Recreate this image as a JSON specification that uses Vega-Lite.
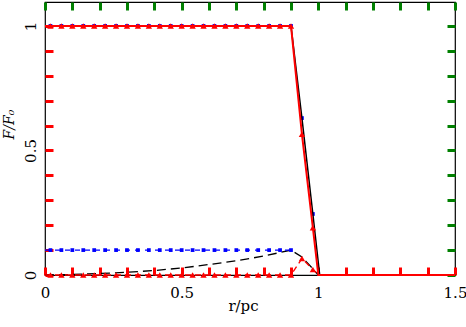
{
  "$schema": "https://vega.github.io/schema/vega-lite/v6.json",
  "width": 410,
  "height": 273,
  "autosize": "none",
  "padding": {"left": 45, "top": 2, "right": 11, "bottom": 52},
  "background": "white",
  "config": {
    "view": {"stroke": "black", "strokeWidth": 1.2},
    "axis": {
      "labelFont": "DejaVu Serif", "labelFontSize": 15, "labelColor": "black", "domain": false,
      "ticks": true, "tickOpacity": 1, "tickColor": "black", "tickWidth": 1.2,
      "titleFont": "DejaVu Serif", "titleFontWeight": "normal", "titleColor": "black",
      "grid": false, "labelFlush": false, "labelOverlap": false, "labelBound": false
    }
  },
  "data": {"values": [
    {"s":"rs","x":0,"y":1},{"s":"rs","x":0.9,"y":1},{"s":"rs","x":0.94,"y":0.565},{"s":"rs","x":0.98,"y":0.19},{"s":"rs","x":1.0,"y":0},{"s":"rs","x":1.5,"y":0},
    {"s":"bs","x":0,"y":1},{"s":"bs","x":0.9,"y":1},{"s":"bs","x":0.94,"y":0.63},{"s":"bs","x":0.98,"y":0.245},{"s":"bs","x":1.005,"y":0},{"s":"bs","x":1.5,"y":0},
    {"s":"kd","x":0,"y":0},{"s":"kd","x":0.1,"y":0.002},{"s":"kd","x":0.2,"y":0.006},{"s":"kd","x":0.3,"y":0.011},{"s":"kd","x":0.4,"y":0.018},{"s":"kd","x":0.5,"y":0.028},{"s":"kd","x":0.6,"y":0.042},{"s":"kd","x":0.7,"y":0.057},{"s":"kd","x":0.8,"y":0.076},{"s":"kd","x":0.9,"y":0.1},{"s":"kd","x":0.94,"y":0.072},{"s":"kd","x":0.98,"y":0.025},{"s":"kd","x":1.0,"y":0},{"s":"kd","x":1.5,"y":0},
    {"s":"bd","x":0,"y":0.1},{"s":"bd","x":0.9,"y":0.1},
    {"s":"rd","x":0,"y":0},{"s":"rd","x":0.9,"y":0},{"s":"rd","x":0.94,"y":0.066},{"s":"rd","x":0.98,"y":0.022},{"s":"rd","x":1.0,"y":0},
    {"s":"bq","x":0.02,"y":1},{"s":"bq","x":0.06,"y":1},{"s":"bq","x":0.1,"y":1},{"s":"bq","x":0.14,"y":1},{"s":"bq","x":0.18,"y":1},{"s":"bq","x":0.22,"y":1},{"s":"bq","x":0.26,"y":1},{"s":"bq","x":0.3,"y":1},{"s":"bq","x":0.34,"y":1},{"s":"bq","x":0.38,"y":1},{"s":"bq","x":0.42,"y":1},{"s":"bq","x":0.46,"y":1},{"s":"bq","x":0.5,"y":1},{"s":"bq","x":0.54,"y":1},{"s":"bq","x":0.58,"y":1},{"s":"bq","x":0.62,"y":1},{"s":"bq","x":0.66,"y":1},{"s":"bq","x":0.7,"y":1},{"s":"bq","x":0.74,"y":1},{"s":"bq","x":0.78,"y":1},{"s":"bq","x":0.82,"y":1},{"s":"bq","x":0.86,"y":1},{"s":"bq","x":0.9,"y":1},{"s":"bq","x":0.94,"y":0.63},{"s":"bq","x":0.98,"y":0.245},
    {"s":"bq","x":0.02,"y":0.1},{"s":"bq","x":0.06,"y":0.1},{"s":"bq","x":0.1,"y":0.1},{"s":"bq","x":0.14,"y":0.1},{"s":"bq","x":0.18,"y":0.1},{"s":"bq","x":0.22,"y":0.1},{"s":"bq","x":0.26,"y":0.1},{"s":"bq","x":0.3,"y":0.1},{"s":"bq","x":0.34,"y":0.1},{"s":"bq","x":0.38,"y":0.1},{"s":"bq","x":0.42,"y":0.1},{"s":"bq","x":0.46,"y":0.1},{"s":"bq","x":0.5,"y":0.1},{"s":"bq","x":0.54,"y":0.1},{"s":"bq","x":0.58,"y":0.1},{"s":"bq","x":0.62,"y":0.1},{"s":"bq","x":0.66,"y":0.1},{"s":"bq","x":0.7,"y":0.1},{"s":"bq","x":0.74,"y":0.1},{"s":"bq","x":0.78,"y":0.1},{"s":"bq","x":0.82,"y":0.1},{"s":"bq","x":0.86,"y":0.1},{"s":"bq","x":0.9,"y":0.1},
    {"s":"rt","x":0.02,"y":1},{"s":"rt","x":0.06,"y":1},{"s":"rt","x":0.1,"y":1},{"s":"rt","x":0.14,"y":1},{"s":"rt","x":0.18,"y":1},{"s":"rt","x":0.22,"y":1},{"s":"rt","x":0.26,"y":1},{"s":"rt","x":0.3,"y":1},{"s":"rt","x":0.34,"y":1},{"s":"rt","x":0.38,"y":1},{"s":"rt","x":0.42,"y":1},{"s":"rt","x":0.46,"y":1},{"s":"rt","x":0.5,"y":1},{"s":"rt","x":0.54,"y":1},{"s":"rt","x":0.58,"y":1},{"s":"rt","x":0.62,"y":1},{"s":"rt","x":0.66,"y":1},{"s":"rt","x":0.7,"y":1},{"s":"rt","x":0.74,"y":1},{"s":"rt","x":0.78,"y":1},{"s":"rt","x":0.82,"y":1},{"s":"rt","x":0.86,"y":1},{"s":"rt","x":0.9,"y":1},{"s":"rt","x":0.94,"y":0.565},{"s":"rt","x":0.98,"y":0.19},
    {"s":"rt","x":0.02,"y":0},{"s":"rt","x":0.06,"y":0},{"s":"rt","x":0.1,"y":0},{"s":"rt","x":0.14,"y":0},{"s":"rt","x":0.18,"y":0},{"s":"rt","x":0.22,"y":0},{"s":"rt","x":0.26,"y":0},{"s":"rt","x":0.3,"y":0},{"s":"rt","x":0.34,"y":0},{"s":"rt","x":0.38,"y":0},{"s":"rt","x":0.42,"y":0},{"s":"rt","x":0.46,"y":0},{"s":"rt","x":0.5,"y":0},{"s":"rt","x":0.54,"y":0},{"s":"rt","x":0.58,"y":0},{"s":"rt","x":0.62,"y":0},{"s":"rt","x":0.66,"y":0},{"s":"rt","x":0.7,"y":0},{"s":"rt","x":0.74,"y":0},{"s":"rt","x":0.78,"y":0},{"s":"rt","x":0.82,"y":0},{"s":"rt","x":0.86,"y":0},{"s":"rt","x":0.9,"y":0},{"s":"rt","x":0.94,"y":0.066},{"s":"rt","x":0.98,"y":0.022}
  ]},
  "resolve": {"axis": {"x": "independent", "y": "independent"}},
  "layer": [
    {"transform": [{"filter": "datum.s === 'kd'"}], "mark": {"type": "line", "color": "black", "strokeWidth": 1.3, "strokeDash": [9, 5]},
      "encoding": {
        "x": {"field": "x", "type": "quantitative", "scale": {"domain": [0, 1.5], "nice": false, "zero": false},
          "axis": {"orient": "bottom", "values": [0,0.1,0.2,0.3,0.4,0.5,0.6,0.7,0.8,0.9,1,1.1,1.2,1.3,1.4,1.5], "format": "~g",
            "labelExpr": "(datum.value === 0 || datum.value === 0.5 || datum.value === 1 || datum.value === 1.5) ? datum.label : ''",
            "tickSize": -8, "tickColor": "red", "tickWidth": 3,
            "labelPadding": 18, "labelBaseline": "top", "labelAlign": "center",
            "title": "r/pc", "titleFontSize": 15, "titleX": 198, "titleY": 35, "titleBaseline": "alphabetic", "titleAlign": "center"}},
        "y": {"field": "y", "type": "quantitative", "scale": {"domain": [0, 1.096], "nice": false, "zero": false},
          "axis": {"orient": "left", "values": [0,0.1,0.2,0.3,0.4,0.5,0.6,0.7,0.8,0.9,1], "format": "~g",
            "labelExpr": "(datum.value === 0 || datum.value === 0.5 || datum.value === 1) ? datum.label : ''",
            "tickSize": -8, "tickColor": "red", "tickWidth": 3,
            "labelPadding": 23, "labelAngle": 270, "labelAlign": "center", "labelBaseline": "middle",
            "title": "F/F₀", "titleFontStyle": "italic", "titleFontSize": 14, "titleAngle": 270, "titleX": -36, "titleY": 122, "titleAlign": "center", "titleBaseline": "middle"}}
      }
    },
    {"transform": [{"filter": "datum.s === 'bd'"}], "mark": {"type": "line", "color": "#0000ff", "strokeWidth": 1.3, "strokeDash": [5, 5]},
      "encoding": {
        "x": {"field": "x", "type": "quantitative", "scale": {"domain": [0, 1.5], "nice": false, "zero": false},
          "axis": {"orient": "top", "values": [0,0.1,0.2,0.3,0.4,0.5,0.6,0.7,0.8,0.9,1,1.1,1.2,1.3,1.4,1.5],
            "tickSize": -8, "tickColor": "green", "tickWidth": 3, "labels": false, "title": null}},
        "y": {"field": "y", "type": "quantitative", "scale": {"domain": [0, 1.096], "nice": false, "zero": false},
          "axis": {"orient": "right", "values": [0,0.1,0.2,0.3,0.4,0.5,0.6,0.7,0.8,0.9,1],
            "tickSize": -8, "tickColor": "green", "tickWidth": 3, "labels": false, "title": null}}
      }
    },
    {"transform": [{"filter": "datum.s === 'bq'"}], "mark": {"type": "point", "shape": "square", "filled": true, "color": "#0000ff", "size": 14, "opacity": 1},
      "encoding": {
        "x": {"field": "x", "type": "quantitative", "scale": {"domain": [0, 1.5], "nice": false, "zero": false}, "axis": null},
        "y": {"field": "y", "type": "quantitative", "scale": {"domain": [0, 1.096], "nice": false, "zero": false}, "axis": null}
      }
    },
    {"transform": [{"filter": "datum.s === 'rd'"}], "mark": {"type": "line", "color": "#ff0000", "strokeWidth": 1.3, "strokeDash": [6, 4]},
      "encoding": {
        "x": {"field": "x", "type": "quantitative", "scale": {"domain": [0, 1.5], "nice": false, "zero": false}, "axis": null},
        "y": {"field": "y", "type": "quantitative", "scale": {"domain": [0, 1.096], "nice": false, "zero": false}, "axis": null}
      }
    },
    {"transform": [{"filter": "datum.s === 'bs'"}], "mark": {"type": "line", "color": "black", "strokeWidth": 1.5},
      "encoding": {
        "x": {"field": "x", "type": "quantitative", "scale": {"domain": [0, 1.5], "nice": false, "zero": false}, "axis": null},
        "y": {"field": "y", "type": "quantitative", "scale": {"domain": [0, 1.096], "nice": false, "zero": false}, "axis": null}
      }
    },
    {"transform": [{"filter": "datum.s === 'rs'"}], "mark": {"type": "line", "color": "#ff0000", "strokeWidth": 2},
      "encoding": {
        "x": {"field": "x", "type": "quantitative", "scale": {"domain": [0, 1.5], "nice": false, "zero": false}, "axis": null},
        "y": {"field": "y", "type": "quantitative", "scale": {"domain": [0, 1.096], "nice": false, "zero": false}, "axis": null}
      }
    },
    {"transform": [{"filter": "datum.s === 'rt'"}], "mark": {"type": "point", "shape": "triangle-up", "filled": true, "color": "#ff0000", "size": 40, "opacity": 1},
      "encoding": {
        "x": {"field": "x", "type": "quantitative", "scale": {"domain": [0, 1.5], "nice": false, "zero": false}, "axis": null},
        "y": {"field": "y", "type": "quantitative", "scale": {"domain": [0, 1.096], "nice": false, "zero": false}, "axis": null}
      }
    }
  ]
}
